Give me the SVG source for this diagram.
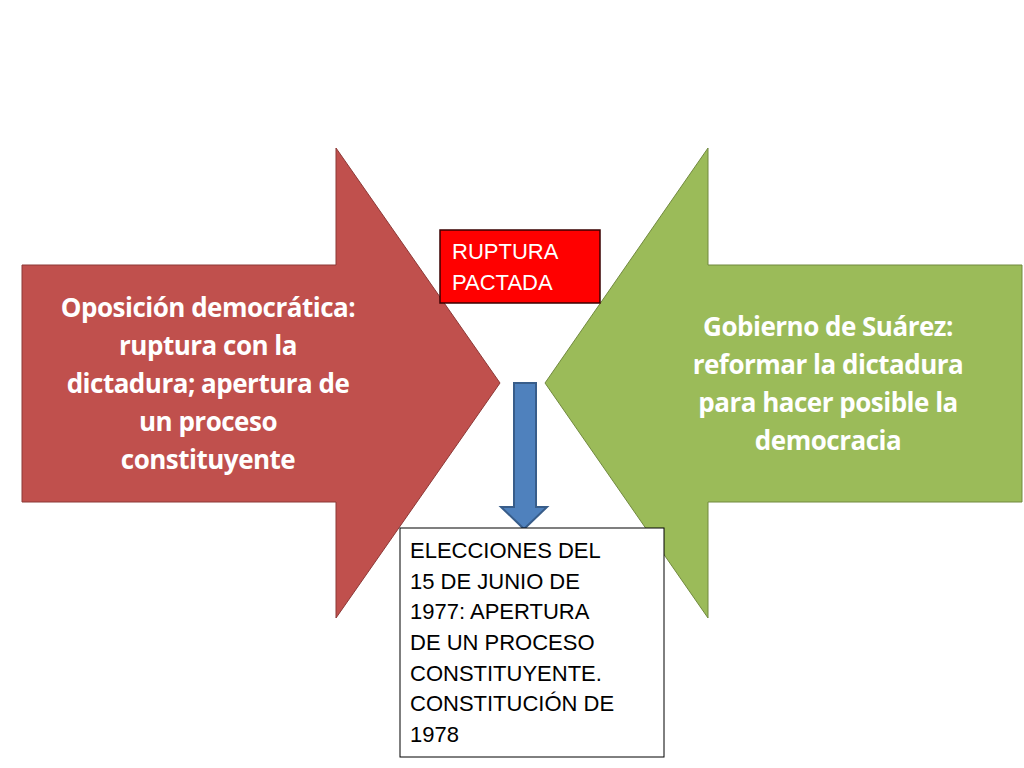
<svg xmlns="http://www.w3.org/2000/svg" width="1024" height="768" viewBox="0 0 1024 768">
<style>
.big{font-family:"Open Sans","Liberation Sans",sans-serif;font-weight:bold;font-size:26px;fill:#fff;text-anchor:middle}
.sm{font-family:"Liberation Sans",Arial,sans-serif;font-size:22px}
</style>
<rect width="1024" height="768" fill="#fff"/>
<g id="oposicion">
<polygon points="22,265 336,265 336,148 500,383 336,618 336,502 22,502" fill="#C0504D" stroke="#8C3836" stroke-width="1"/>
<text class="big" letter-spacing="-0.5"><tspan x="208" y="317">Oposición democrática:</tspan><tspan x="208" y="355">ruptura con la</tspan><tspan x="208" y="393">dictadura; apertura de</tspan><tspan x="208" y="431">un proceso</tspan><tspan x="208" y="469">constituyente</tspan></text>
</g>
<g id="gobierno">
<polygon points="1022,265 708,265 708,148 545,383 708,618 708,502 1022,502" fill="#9BBB59" stroke="#71893F" stroke-width="1"/>
<text class="big" letter-spacing="-0.5"><tspan x="828" y="336">Gobierno de Suárez:</tspan><tspan x="828" y="374">reformar la dictadura</tspan><tspan x="828" y="412">para hacer posible la</tspan><tspan x="828" y="450">democracia</tspan></text>
</g>
<g id="ruptura">
<rect x="440" y="230" width="160" height="73" fill="#FF0000" stroke="#3a0000" stroke-width="1.5"/>
<text class="sm" fill="#fff"><tspan x="452" y="259">RUPTURA</tspan><tspan x="452" y="290">PACTADA</tspan></text>
</g>
<g id="connectors">
<polygon points="514,383 536,383 536,507 547,507 524,529 501,507 514,507" fill="#4F81BD" stroke="#385D8A" stroke-width="2"/>
</g>
<g id="elecciones">
<rect x="400" y="528" width="264" height="229" fill="#fff" stroke="#000" stroke-width="1"/>
<text class="sm" fill="#000"><tspan x="410" y="558">ELECCIONES DEL</tspan><tspan x="410" y="589">15 DE JUNIO DE</tspan><tspan x="410" y="619">1977: APERTURA</tspan><tspan x="410" y="650">DE UN PROCESO</tspan><tspan x="410" y="681">CONSTITUYENTE.</tspan><tspan x="410" y="711">CONSTITUCIÓN DE</tspan><tspan x="410" y="742">1978</tspan></text>
</g>
</svg>
